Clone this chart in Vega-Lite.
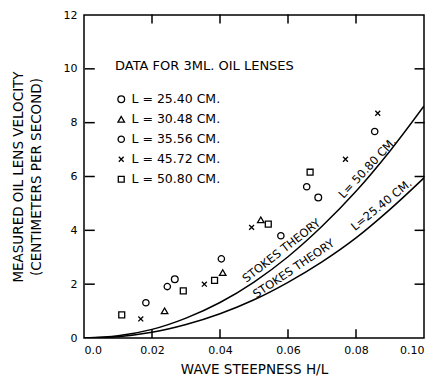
{
  "$schema": "https://vega.github.io/schema/vega-lite/v6.json",
  "width": 340,
  "height": 323,
  "autosize": "none",
  "padding": {"left": 84, "top": 15, "right": 14, "bottom": 45},
  "background": "white",
  "config": {
    "view": {"stroke": "black", "strokeWidth": 1.5},
    "font": "DejaVu Sans",
    "axis": {
      "domain": false, "grid": false, "ticks": false,
      "labelColor": "black", "titleColor": "black", "labelFont": "DejaVu Sans",
      "titleFont": "DejaVu Sans", "titleFontWeight": "normal", "labelFontSize": 11, "titleFontSize": 13.5
    }
  },
  "datasets": {
    "pts": [
      {"h": 0.0111, "v": 0.86, "series": "L = 50.80  CM."},
      {"h": 0.0167, "v": 0.71, "series": "L = 45.72  CM."},
      {"h": 0.0182, "v": 1.31, "series": "L = 35.56  CM."},
      {"h": 0.0237, "v": 1.01, "series": "L = 30.48  CM."},
      {"h": 0.0245, "v": 1.91, "series": "L = 35.56  CM."},
      {"h": 0.0267, "v": 2.18, "series": "L = 25.40  CM."},
      {"h": 0.0292, "v": 1.75, "series": "L = 50.80  CM."},
      {"h": 0.0354, "v": 2.0, "series": "L = 45.72  CM."},
      {"h": 0.0384, "v": 2.14, "series": "L = 50.80  CM."},
      {"h": 0.0408, "v": 2.43, "series": "L = 30.48  CM."},
      {"h": 0.0404, "v": 2.94, "series": "L = 35.56  CM."},
      {"h": 0.0493, "v": 4.11, "series": "L = 45.72  CM."},
      {"h": 0.052, "v": 4.39, "series": "L = 30.48  CM."},
      {"h": 0.0542, "v": 4.23, "series": "L = 50.80  CM."},
      {"h": 0.0579, "v": 3.8, "series": "L = 35.56  CM."},
      {"h": 0.0655, "v": 5.62, "series": "L = 35.56  CM."},
      {"h": 0.0665, "v": 6.16, "series": "L = 50.80  CM."},
      {"h": 0.0689, "v": 5.22, "series": "L = 25.40  CM."},
      {"h": 0.0769, "v": 6.64, "series": "L = 45.72  CM."},
      {"h": 0.0855, "v": 7.67, "series": "L = 35.56  CM."},
      {"h": 0.0864, "v": 8.35, "series": "L = 45.72  CM."}
    ],
    "curves": [
      {"h": 0.0, "v": 0.0, "theory": "50.80"},
      {"h": 0.01, "v": 0.08, "theory": "50.80"},
      {"h": 0.02, "v": 0.32, "theory": "50.80"},
      {"h": 0.03, "v": 0.74, "theory": "50.80"},
      {"h": 0.04, "v": 1.32, "theory": "50.80"},
      {"h": 0.05, "v": 2.08, "theory": "50.80"},
      {"h": 0.06, "v": 3.02, "theory": "50.80"},
      {"h": 0.07, "v": 4.15, "theory": "50.80"},
      {"h": 0.08, "v": 5.45, "theory": "50.80"},
      {"h": 0.09, "v": 6.95, "theory": "50.80"},
      {"h": 0.1, "v": 8.62, "theory": "50.80"},
      {"h": 0.0, "v": 0.0, "theory": "25.40"},
      {"h": 0.01, "v": 0.05, "theory": "25.40"},
      {"h": 0.02, "v": 0.21, "theory": "25.40"},
      {"h": 0.03, "v": 0.5, "theory": "25.40"},
      {"h": 0.04, "v": 0.9, "theory": "25.40"},
      {"h": 0.05, "v": 1.42, "theory": "25.40"},
      {"h": 0.06, "v": 2.07, "theory": "25.40"},
      {"h": 0.07, "v": 2.83, "theory": "25.40"},
      {"h": 0.08, "v": 3.72, "theory": "25.40"},
      {"h": 0.09, "v": 4.78, "theory": "25.40"},
      {"h": 0.1, "v": 5.95, "theory": "25.40"}
    ],
    "labels": [
      {"h": 0.0582, "v": 3.22, "angle": -38, "text": "STOKES THEORY"},
      {"h": 0.0835, "v": 6.3, "angle": -47, "text": "L= 50.80 CM."},
      {"h": 0.0618, "v": 2.55, "angle": -34, "text": "STOKES THEORY"},
      {"h": 0.0876, "v": 4.92, "angle": -39, "text": "L=25.40 CM."}
    ],
    "frameticks": [
      {"h": 0.02, "v": 0.16, "side": "bottom"},
      {"h": 0.04, "v": 0.16, "side": "bottom"},
      {"h": 0.06, "v": 0.16, "side": "bottom"},
      {"h": 0.08, "v": 0.16, "side": "bottom"},
      {"h": 0.02, "v": 11.85, "side": "top"},
      {"h": 0.04, "v": 11.85, "side": "top"},
      {"h": 0.06, "v": 11.85, "side": "top"},
      {"h": 0.08, "v": 11.85, "side": "top"},
      {"h": 0.0017, "v": 2, "side": "left"},
      {"h": 0.0017, "v": 4, "side": "left"},
      {"h": 0.0017, "v": 6, "side": "left"},
      {"h": 0.0017, "v": 8, "side": "left"},
      {"h": 0.0017, "v": 10, "side": "left"},
      {"h": 0.0987, "v": 2, "side": "right"},
      {"h": 0.0987, "v": 4, "side": "right"},
      {"h": 0.0987, "v": 6, "side": "right"},
      {"h": 0.0987, "v": 8, "side": "right"},
      {"h": 0.0987, "v": 10, "side": "right"}
    ]
  },
  "layer": [
    {
      "data": {"name": "curves"},
      "mark": {"type": "line", "stroke": "black", "strokeWidth": 1.5, "interpolate": "monotone", "clip": true},
      "encoding": {
        "x": {"field": "h", "type": "quantitative", "scale": {"domain": [0, 0.1], "nice": false},
          "axis": {"values": [0, 0.02, 0.04, 0.06, 0.08, 0.1], "labelPadding": 6,
            "labelExpr": "datum.value == 0 ? '0.0' : format(datum.value, '.2f')", "title": "WAVE STEEPNESS H/L", "titlePadding": 7}},
        "y": {"field": "v", "type": "quantitative", "scale": {"domain": [0, 12], "nice": false},
          "axis": {"values": [0, 2, 4, 6, 8, 10, 12], "labelPadding": 7,
            "title": ["MEASURED OIL LENS VELOCITY", "(CENTIMETERS PER SECOND)"], "titlePadding": 20, "titleLineHeight": 18}},
        "detail": {"field": "theory"}
      }
    },
    {
      "data": {"name": "frameticks"},
      "transform": [{"filter": "datum.side == 'bottom' || datum.side == 'top'"}],
      "mark": {"type": "tick", "orient": "vertical", "size": 9, "thickness": 1.5, "color": "black", "opacity": 1},
      "encoding": {"x": {"field": "h", "type": "quantitative"}, "y": {"field": "v", "type": "quantitative"}}
    },
    {
      "data": {"name": "frameticks"},
      "transform": [{"filter": "datum.side == 'left' || datum.side == 'right'"}],
      "mark": {"type": "tick", "orient": "horizontal", "size": 10, "thickness": 1.5, "color": "black", "opacity": 1},
      "encoding": {"x": {"field": "h", "type": "quantitative"}, "y": {"field": "v", "type": "quantitative"}}
    },
    {
      "data": {"name": "labels"},
      "mark": {"type": "text", "font": "DejaVu Sans", "fontSize": 11.5, "color": "black", "baseline": "middle", "align": "center"},
      "encoding": {
        "x": {"field": "h", "type": "quantitative"},
        "y": {"field": "v", "type": "quantitative"},
        "text": {"field": "text"},
        "angle": {"field": "angle", "type": "quantitative", "scale": null}
      }
    },
    {
      "data": {"name": "pts"},
      "mark": {"type": "point", "filled": false, "stroke": "black", "strokeWidth": 1.3, "opacity": 1},
      "encoding": {
        "x": {"field": "h", "type": "quantitative"},
        "y": {"field": "v", "type": "quantitative"},
        "shape": {"field": "series", "type": "nominal",
          "scale": {"domain": ["L = 25.40  CM.", "L = 30.48  CM.", "L = 35.56  CM.", "L = 45.72  CM.", "L = 50.80  CM."],
            "range": ["circle", "triangle-up", "circle", "M-0.8,-0.8L0.8,0.8M0.8,-0.8L-0.8,0.8", "square"]},
          "legend": {"orient": "none", "legendX": 31, "legendY": 45, "title": "DATA FOR 3ML. OIL LENSES",
            "titleFontSize": 13, "titleFontWeight": "normal", "titleColor": "black", "titlePadding": 20,
            "labelFontSize": 12.5, "labelColor": "black", "labelOffset": 4, "rowPadding": 7,
            "symbolStrokeColor": "black", "symbolStrokeWidth": 1.3, "symbolFillColor": "transparent"}},
        "size": {"field": "series", "type": "nominal",
          "scale": {"domain": ["L = 25.40  CM.", "L = 30.48  CM.", "L = 35.56  CM.", "L = 45.72  CM.", "L = 50.80  CM."],
            "range": [45, 35, 28, 30, 40]}}
      }
    }
  ]
}
